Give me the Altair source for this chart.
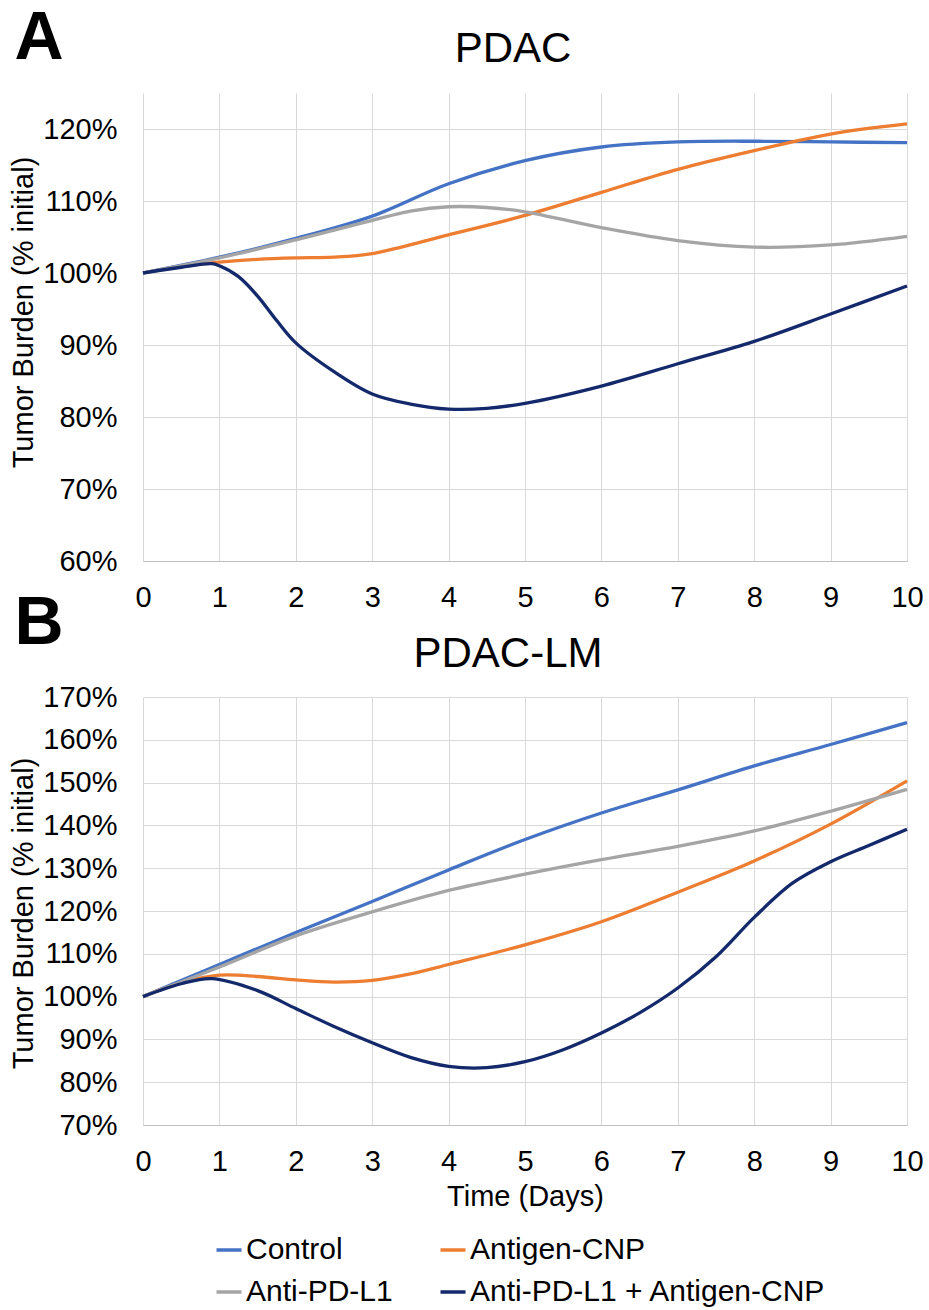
import altair as alt
import pandas as pd

FONT = "Liberation Sans"
SERIES = ["Control", "Antigen-CNP", "Anti-PD-L1", "Anti-PD-L1 + Antigen-CNP"]
COLORS = ["#4472C4", "#ED7D31", "#A5A5A5", "#13296B"]

# ---- PDAC (tumor burden, % of initial) ----
pdac_control_days = [0, 1, 2, 3, 4, 5, 6, 7, 8, 9, 10]
pdac_control = [100, 102.2, 104.8, 107.9, 112.4, 115.6, 117.5, 118.2, 118.3, 118.2, 118.1]

pdac_antigen_days = [0, 0.5, 1, 1.5, 2, 2.5, 3, 4, 5, 6, 7, 8, 9, 10]
pdac_antigen = [100, 100.9, 101.5, 101.9, 102.1, 102.2, 102.7, 105.3, 108.0, 111.2, 114.4, 117.0, 119.3, 120.7]

pdac_pdl1_days = [0, 1, 2, 3, 3.5, 4, 4.5, 5, 6, 7, 8, 9, 10]
pdac_pdl1 = [100, 102.1, 104.6, 107.3, 108.6, 109.2, 109.1, 108.5, 106.3, 104.5, 103.6, 103.9, 105.1]

pdac_combo_days = [0, 0.5, 0.9, 1, 1.25, 1.5, 1.75, 2, 2.5, 3, 3.5, 4, 4.5, 5, 6, 7, 8, 9, 10]
pdac_combo = [100, 100.8, 101.3, 101.0, 99.5, 96.8, 93.4, 90.3, 86.3, 83.2, 81.8, 81.1, 81.2, 81.9,
              84.3, 87.4, 90.5, 94.3, 98.2]

# ---- PDAC-LM ----
lm_control_days = [0, 1, 2, 3, 4, 5, 6, 7, 8, 9, 10]
lm_control = [100, 107.5, 115.0, 122.2, 129.6, 136.7, 142.9, 148.3, 153.9, 158.9, 164.0]

lm_antigen_days = [0, 0.5, 1, 1.5, 2, 2.5, 3, 3.5, 4, 5, 6, 7, 8, 9, 10]
lm_antigen = [100, 103.2, 105.0, 104.7, 103.9, 103.4, 103.8, 105.3, 107.5, 112.1, 117.5, 124.4, 131.7, 140.3, 150.4]

lm_pdl1_days = [0, 1, 2, 3, 4, 5, 6, 7, 8, 9, 10]
lm_pdl1 = [100, 106.9, 114.2, 119.8, 124.8, 128.6, 132.0, 135.1, 138.7, 143.3, 148.4]

lm_combo_days = [0, 0.5, 0.9, 1.5, 2, 2.5, 3, 3.5, 4, 4.5, 5, 5.5, 6, 6.5, 7, 7.5, 8, 8.5, 9, 9.5, 10]
lm_combo = [100, 103.0, 104.2, 101.4, 97.2, 93.0, 89.2, 85.8, 83.7, 83.4, 84.8, 87.6, 91.5, 96.2,
            102.0, 109.3, 118.5, 126.5, 131.5, 135.3, 139.1]


def long_table(groups):
    rows = []
    for name, days, vals in groups:
        for d, v in zip(days, vals):
            rows.append({"series": name, "day": d, "burden": v / 100.0})
    return pd.DataFrame(rows)


pdac_df = long_table([
    ("Control", pdac_control_days, pdac_control),
    ("Antigen-CNP", pdac_antigen_days, pdac_antigen),
    ("Anti-PD-L1", pdac_pdl1_days, pdac_pdl1),
    ("Anti-PD-L1 + Antigen-CNP", pdac_combo_days, pdac_combo),
])
lm_df = long_table([
    ("Control", lm_control_days, lm_control),
    ("Antigen-CNP", lm_antigen_days, lm_antigen),
    ("Anti-PD-L1", lm_pdl1_days, lm_pdl1),
    ("Anti-PD-L1 + Antigen-CNP", lm_combo_days, lm_combo),
])

color = alt.Color(
    "series:N",
    scale=alt.Scale(domain=SERIES, range=COLORS),
    sort=SERIES,
    legend=alt.Legend(
        title=None,
        orient="none",
        direction="horizontal",
        legendX=71,
        legendY=1142,
        columns=2,
        symbolType="stroke",
        symbolSize=625,
        symbolStrokeWidth=3.5,
        labelFont=FONT,
        labelFontSize=30,
        labelColor="#000000",
        labelOffset=2,
        columnPadding=40,
        rowPadding=12,
        labelLimit=500,
    ),
)


def label_layer(text, size, weight, x, y):
    return alt.Chart(pd.DataFrame({"t": [text]})).mark_text(
        font=FONT, fontSize=size, fontWeight=weight, align="center",
        baseline="alphabetic", color="#000000",
    ).encode(text="t:N", x=alt.value(x), y=alt.value(y))


def line_layer(df, ymin, ymax, yvals, xtitle, title_y):
    x = alt.X(
        "day:Q",
        scale=alt.Scale(domain=[0, 10], nice=False),
        axis=alt.Axis(values=list(range(11)), title=xtitle, labelPadding=22,
                      titlePadding=6, labelFlush=False),
    )
    y = alt.Y(
        "burden:Q",
        scale=alt.Scale(domain=[ymin, ymax], nice=False, zero=False),
        axis=alt.Axis(values=yvals, format=".0%", title="Tumor Burden (% initial)",
                      labelPadding=26, titlePadding=4, titleY=title_y,
                      domain=False, labelFlush=False),
    )
    return alt.Chart(df).mark_line(strokeWidth=3.3, interpolate="catmull-rom").encode(
        x=x, y=y, color=color
    )


# Panel A carries its own heading and the heading of panel B underneath it.
top = alt.layer(
    line_layer(pdac_df, 0.6, 1.25, [0.6, 0.7, 0.8, 0.9, 1.0, 1.1, 1.2], None, 219),
    label_layer("A", 68, "bold", -104, -34),
    label_layer("PDAC", 42, "normal", 370, -31),
    label_layer("B", 68, "bold", -104, 551),
    label_layer("PDAC-LM", 42, "normal", 365, 574),
).properties(width=764, height=468)

bottom = line_layer(
    lm_df, 0.7, 1.7, [0.7, 0.8, 0.9, 1.0, 1.1, 1.2, 1.3, 1.4, 1.5, 1.6, 1.7], "Time (Days)", 216
).properties(width=764, height=428)

chart = alt.vconcat(top, bottom, spacing=8).properties(
    padding={"left": 9, "top": 5, "right": 5, "bottom": 5}, background="white"
).configure_axis(
    labelFont=FONT,
    labelFontSize=29,
    labelColor="#000000",
    titleFont=FONT,
    titleFontSize=29,
    titleFontWeight="normal",
    titleColor="#000000",
    gridColor="#D9D9D9",
    gridWidth=1,
    domainColor="#BFBFBF",
    ticks=False,
    tickSize=0,
).configure_view(stroke=None)

chart.save("out.html", embed_options={"renderer": "svg", "actions": False})
